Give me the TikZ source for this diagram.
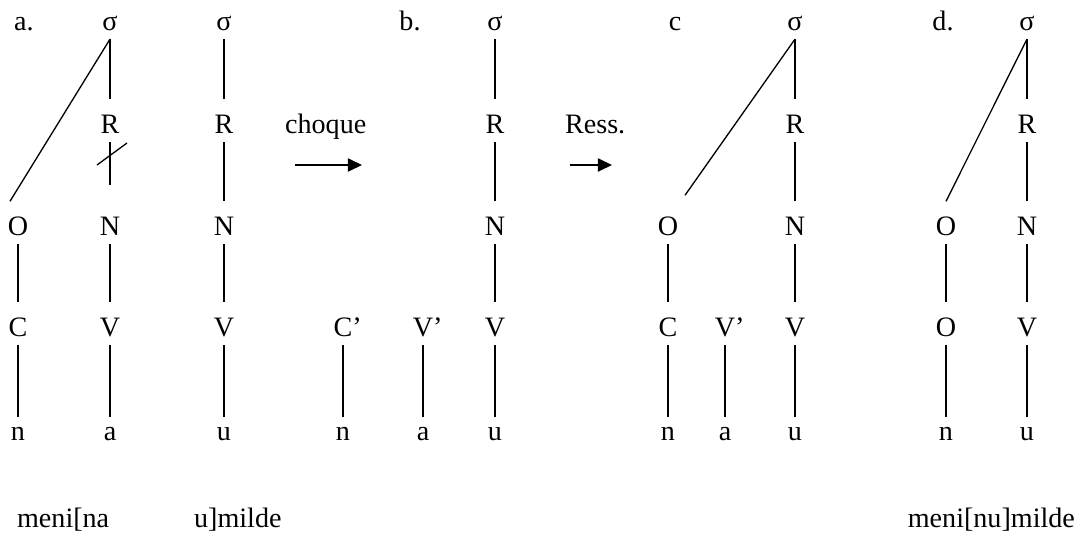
\documentclass[tikz,border=0pt]{standalone}
\usepackage{fontspec}
\setmainfont{Liberation Serif}
\usetikzlibrary{arrows.meta}
\tikzset{lab/.style={font=\fontsize{16}{19}\selectfont,inner xsep=1pt,inner ysep=5pt,
    text height=14pt,text depth=0pt,anchor=base},
  seg/.style={lab,text height=8pt},
  link/.style={line width=.75pt},
  move/.style={line width=.75pt,-{Triangle[length=8pt,width=7.5pt]}}}
\begin{document}
\begin{tikzpicture}[x=.02cm,y=-.02cm]
\useasboundingbox (0,0) rectangle (1078,538);
% spines sigma - R - N - V - segment
\foreach \k/\x/\w in {a1/110/a,a2/224/u,b/495/u,c/795/u,d/1027/u}{
 \node[lab] (s\k) at (\x,30) {σ};
 \node[lab] (r\k) at (\x,133) {R};
 \node[lab] (n\k) at (\x,235) {N};
 \node[lab] (v\k) at (\x,336) {V};
 \node[seg] (w\k) at (\x,440) {\w};
 \draw[link] (s\k)--(r\k);
 \draw[link] (n\k)--(v\k);
 \draw[link] (v\k)--(w\k);
}
\foreach \k in {a2,b,c,d} \draw[link] (r\k)--(n\k);
% delinked rhyme in a
\draw[link,shorten >=9pt] (ra1)--(na1);
\coordinate (cut) at (112,154);
\draw[link] (cut) +(-15,11) -- +(15,-11);
% panel labels
\node[lab] (ta) at (24,30) {a.};
\node[lab] (tb) at (410,30) {b.};
\node[lab] (tc) at (675,30) {c};
\node[lab] (td) at (943,30) {d.};
% onsets
\node[lab] (oa) at (18,235) {O};
\node[lab] (ca) at (18,336) {C};
\node[seg] (xa) at (18,440) {n};
\draw[link] (sa1.south)--([shift={(-8,0)}]oa.north);
\draw[link] (oa)--(ca); \draw[link] (ca)--(xa);
\node[lab] (cb) at (343,336) {C\rlap{’}};
\node[seg] (xb) at (343,440) {n};
\node[lab] (vb) at (423,336) {V\rlap{’}};
\node[seg] (yb) at (423,440) {a};
\draw[link] (cb)--(xb); \draw[link] (vb)--(yb);
\node[lab] (oc) at (668,235) {O};
\node[lab] (cc) at (668,336) {C};
\node[seg] (xc) at (668,440) {n};
\node[lab] (vc) at (725,336) {V\rlap{’}};
\node[seg] (yc) at (725,440) {a};
\draw[link] (sc.south)--([shift={(17,-6)}]oc.north);
\draw[link] (oc)--(cc); \draw[link] (cc)--(xc); \draw[link] (vc)--(yc);
\node[lab] (od) at (946,235) {O};
\node[lab] (pd) at (946,336) {O};
\node[seg] (xd) at (946,440) {n};
\draw[link] (sd.south)--(od.north);
\draw[link] (od)--(pd); \draw[link] (pd)--(xd);
% processes
\node[lab,anchor=base west] (choc) at (283,133) {choque};
\coordinate (c1) at (295,165); \coordinate (c2) at (362,165);
\draw[move] (c1)--(c2);
\node[lab,anchor=base west] (ress) at (563,133) {Ress.};
\coordinate (r1) at (570,165); \coordinate (r2) at (612,165);
\draw[move] (r1)--(r2);
% words
\node[lab,anchor=base west] (w1) at (15,527) {meni[na};
\node[lab,anchor=base west] (w2) at (192,527) {u]milde};
\node[lab,anchor=base east] (w3) at (1077,527) {meni[nu]milde};
\end{tikzpicture}
\end{document}
